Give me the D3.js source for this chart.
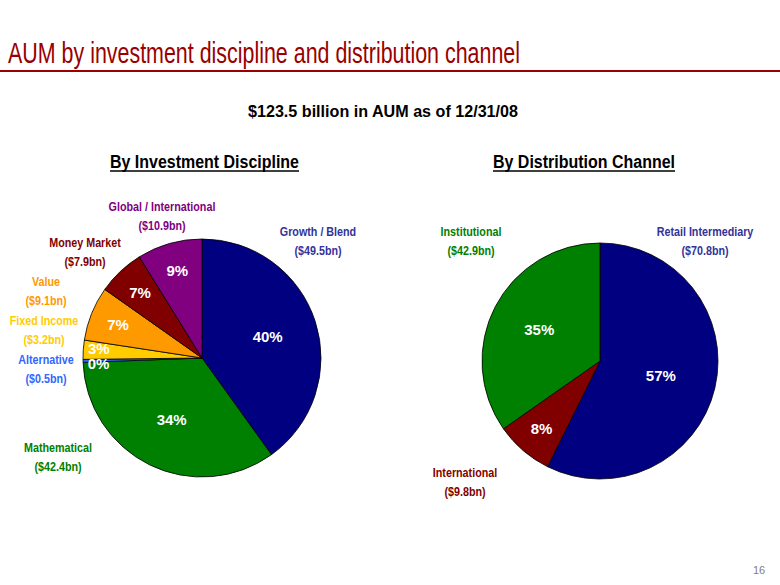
<!DOCTYPE html>
<html><head><meta charset="utf-8">
<script src="https://cdn.jsdelivr.net/npm/d3@7"></script>
<style>
body{margin:0;background:#fff;}
svg{display:block;}
text{font-family:Arial,"Liberation Sans",sans-serif;}
</style></head>
<body>
<script>
// ---- data ----
const disciplineNames = ["Growth / Blend","Mathematical","Alternative","Fixed Income","Value","Money Market","Global / International"];
const disciplineValues = [49.5, 42.4, 0.5, 3.2, 9.1, 7.9, 10.9];
const disciplinePct = ["40%","34%","0%","3%","7%","7%","9%"];
const disciplineColors = ["#000080","#008000","#3366FF","#FFCC00","#FF9900","#800000","#800080"];
const disciplineLabelColors = ["#333399","#008000","#3366FF","#FFCC00","#FF9900","#800000","#800080"];

const channelNames = ["Retail Intermediary","International","Institutional"];
const channelValues = [70.8, 9.8, 42.9];
const channelPct = ["57%","8%","35%"];
const channelColors = ["#000080","#800000","#008000"];
const channelLabelColors = ["#333399","#800000","#008000"];

const W = 780, H = 585;
const svg = d3.select("body").append("svg").attr("width", W).attr("height", H);

// title
svg.append("text").attr("x", 8).attr("y", 63)
  .attr("font-size", 29).attr("fill", "#990000")
  .attr("textLength", 512).attr("lengthAdjust","spacingAndGlyphs")
  .text("AUM by investment discipline and distribution channel");
svg.append("line").attr("x1",0).attr("x2",W).attr("y1",71).attr("y2",71)
  .attr("stroke","#990000").attr("stroke-width",2.2);

svg.append("text").attr("x", 248).attr("y", 116.5)
  .attr("font-size", 17).attr("font-weight","bold")
  .attr("textLength", 270).attr("lengthAdjust","spacingAndGlyphs")
  .attr("fill","#000").text("$123.5 billion in AUM as of 12/31/08");

function header(x, w, txt){
  svg.append("text").attr("x", x).attr("y", 168)
    .attr("font-size", 18).attr("font-weight","bold")
    .attr("textLength", w).attr("lengthAdjust","spacingAndGlyphs")
    .attr("fill","#000").text(txt);
  svg.append("line").attr("x1", x).attr("x2", x + w).attr("y1", 171).attr("y2", 171)
    .attr("stroke","#000").attr("stroke-width",1.3);
}
header(110, 189, "By Investment Discipline");
header(493, 182, "By Distribution Channel");

function drawPie(cx, cy, R, values, colors, pcts){
  const total = d3.sum(values);
  const pie = d3.pie().sort(null).value(d => d);
  const arcs = pie(values);
  const arc = d3.arc().innerRadius(0).outerRadius(R);
  const g = svg.append("g").attr("transform", `translate(${cx},${cy})`);
  g.selectAll("path").data(arcs).join("path")
    .attr("d", arc).attr("fill", (d,i) => colors[i])
    .attr("stroke", "#000").attr("stroke-width", 0.8);
  // label positions from arc angles
  const pos = arcs.map(d => {
    const frac = d.value / total;
    const r = frac >= 0.5 ? 0.53*R : frac >= 0.3 ? 0.58*R : (frac >= 0.05 ? 0.76*R : 0.87*R);
    const a = (d.startAngle + d.endAngle)/2;
    return {x: r*Math.sin(a), y: -r*Math.cos(a)};
  });
  // simple collision relaxation for neighbouring labels
  const gap = 15;
  for (let i = 1; i < pos.length; i++){
    const p = pos[i], q = pos[i-1];
    if (Math.abs(p.x - q.x) < 25 && Math.abs(p.y - q.y) < gap){
      const push = (gap - Math.abs(p.y - q.y)) / 2;
      if (q.y > p.y){ q.y += push; p.y -= push; } else { q.y -= push; p.y += push; }
    }
  }
  g.selectAll("text").data(arcs).join("text")
    .attr("x", (d,i) => pos[i].x).attr("y", (d,i) => pos[i].y)
    .attr("text-anchor","middle").attr("dy","0.36em")
    .attr("font-weight","bold").attr("font-size",15).attr("fill","#fff")
    .text((d,i) => pcts[i]);
  return arcs;
}
drawPie(202, 358, 119, disciplineValues, disciplineColors, disciplinePct);
drawPie(600, 361, 118, channelValues, channelColors, channelPct);

// category labels (two lines: name and amount), condensed
function label(x, y, name, value, color){
  const g = svg.append("g").attr("transform", `translate(${x},${y}) scale(0.86,1)`);
  const t = g.append("text").attr("text-anchor","middle")
    .attr("font-size",12.5).attr("font-weight","bold").attr("fill",color);
  t.append("tspan").attr("x",0).attr("y",0).text(name);
  t.append("tspan").attr("x",0).attr("y",19.5).text(`($${value}bn)`);
}
const discLabelPos = [[318,236],[58,452],[46,364],[44,325],[46,286],[85,247],[162,211]];
disciplineNames.forEach((n,i) => label(discLabelPos[i][0], discLabelPos[i][1], n, disciplineValues[i].toFixed(1), disciplineLabelColors[i]));
const chanLabelPos = [[705,236],[465,477],[471,236]];
channelNames.forEach((n,i) => label(chanLabelPos[i][0], chanLabelPos[i][1], n, channelValues[i].toFixed(1), channelLabelColors[i]));

svg.append("text").attr("x",759).attr("y",574).attr("text-anchor","middle")
  .attr("font-size",11).attr("fill","#808080").text("16");
</script>
</body></html>
